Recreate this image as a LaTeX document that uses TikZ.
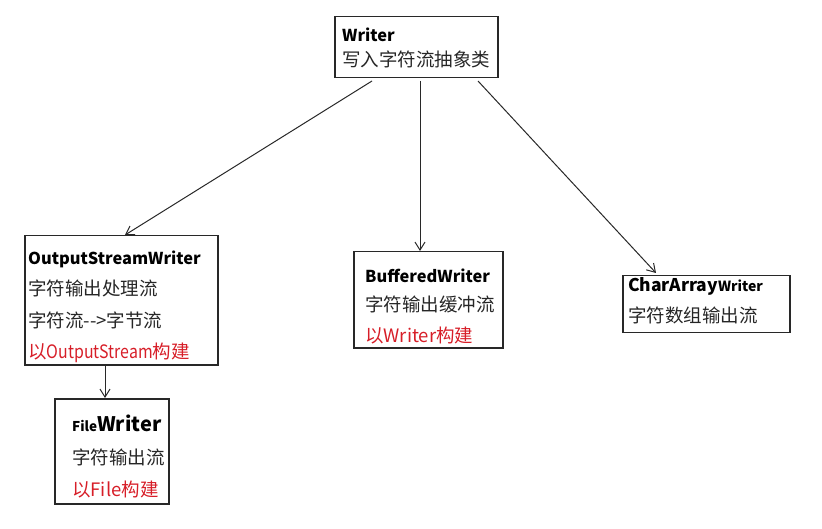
\documentclass[tikz,border=0pt]{standalone}
\usepackage{fontspec}
\usepackage{graphicx}
\setmainfont{Noto Sans CJK SC}
\usetikzlibrary{arrows.meta}
\definecolor{redtxt}{RGB}{215,30,40}
\definecolor{linegray}{RGB}{40,40,40}
\tikzset{
  box/.style={draw=linegray, line width=1.5pt, anchor=north west, inner sep=0pt},
  txt/.style={anchor=base west, inner sep=0pt, font=\fontsize{18.5}{20}\selectfont, text=black!85},
  ttl/.style={anchor=base west, inner sep=0pt, font=\fontsize{16.4}{18}\selectfont\bfseries},
  redl/.style={txt, text=redtxt},
  arr/.style={draw=linegray, line width=1pt, -{Straight Barb[length=8pt,width=10pt]}}
}
\begin{document}
\begin{tikzpicture}[x=1pt,y=-1pt]
\useasboundingbox (0,0) rectangle (822,529);
% boxes
\node[box, minimum width=163pt, minimum height=61pt] (w) at (334,16) {};
\node[box, minimum width=193pt, minimum height=129pt] (osw) at (24,235) {};
\node[box, minimum width=114pt, minimum height=105pt] (fw) at (54,398) {};
\node[box, minimum width=149pt, minimum height=96pt] (bw) at (353,251) {};
\node[box, minimum width=167pt, minimum height=57pt] (caw) at (622,275) {};
% texts
\node[ttl] (w1) at (342,42) {Writer};
\node[txt] (w2) at (342,67) {写入字符流抽象类};
\node[ttl] (o1) at (28,265) {OutputStreamWriter};
\node[txt] (o2) at (28,296) {字符输出处理流};
\node[txt] (o3) at (28,327) {字符流-{}-{}>字节流};
\node[redl] (o4) at (28,358) {以\scalebox{0.86}[1]{OutputStream}构建};
\node[anchor=base west, inner sep=0pt, font=\bfseries] (f1) at (72,431) {{\fontsize{13.5}{15}\selectfont File}{\fontsize{20}{21}\selectfont Writer}};
\node[txt] (f2) at (72,464) {字符输出流};
\node[redl] (f3) at (72,496) {以File构建};
\node[ttl] (b1) at (365,283) {BufferedWriter};
\node[txt] (b2) at (365,312) {字符输出缓冲流};
\node[redl] (b3) at (365,342) {以Writer构建};
\node[anchor=base west, inner sep=0pt, font=\bfseries] (c1) at (628,292) {{\fontsize{17.5}{18}\selectfont CharArray}{\fontsize{14}{15}\selectfont Writer}};
\node[txt] (c2) at (628,323) {字符数组输出流};
% arrows
\coordinate (s1) at (372,81);
\coordinate (s2) at (420,81);
\coordinate (s3) at (478,81);
\draw[arr] (s1) -- (osw.north west -| 125,0) ;
\draw[arr] (s2) -- (bw.north -| 420,0);
\draw[arr] (s3) -- (656,273);
\draw[arr] (osw.south -| 105,0) -- (fw.north -| 105,0);
\end{tikzpicture}
\end{document}
